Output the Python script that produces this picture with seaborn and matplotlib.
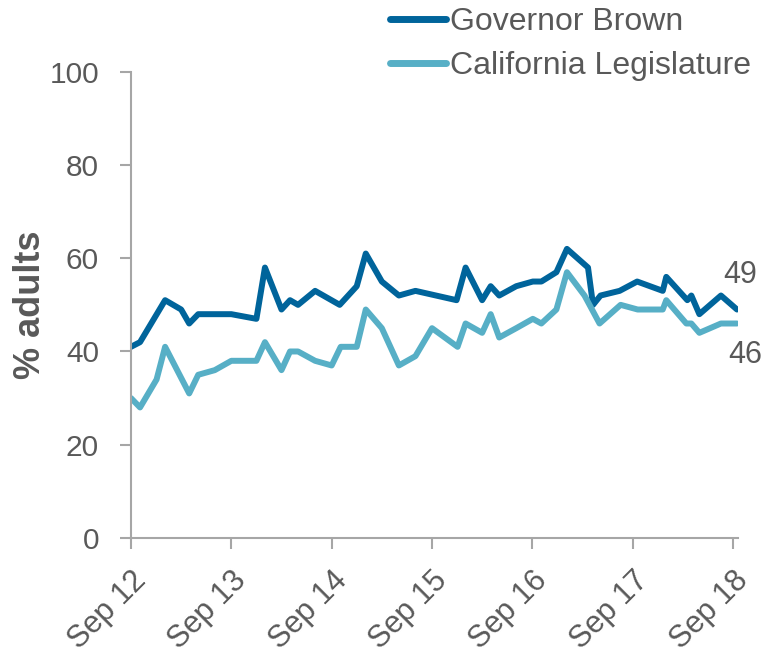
import pandas as pd
import matplotlib
matplotlib.use("Agg")
import matplotlib.pyplot as plt
import seaborn as sns

### Data (x = years since Sep 2012)
brown_t = [0.0, 0.09, 0.34, 0.50, 0.58, 0.67, 1.0, 1.25, 1.335, 1.50, 1.585, 1.665,
           1.835, 2.08, 2.25, 2.34, 2.50, 2.67, 2.835, 3.245, 3.335, 3.50, 3.585,
           3.67, 3.84, 4.005, 4.09, 4.24, 4.345, 4.555, 4.605, 4.68, 4.87, 5.045,
           5.30, 5.335, 5.545, 5.585, 5.665, 5.88, 6.04]
brown = [41, 42, 51, 49, 46, 48, 48, 47, 58, 49, 51, 50,
         53, 50, 54, 61, 55, 52, 53, 51, 58, 51, 54,
         52, 54, 55, 55, 57, 62, 58, 50, 52, 53, 55,
         53, 56, 51, 52, 48, 52, 49]

leg_t = [0.0, 0.09, 0.255, 0.34, 0.58, 0.67, 0.835, 1.0, 1.25, 1.335, 1.50, 1.585,
         1.665, 1.835, 2.0, 2.09, 2.25, 2.34, 2.50, 2.67, 2.835, 3.0, 3.255, 3.335,
         3.50, 3.585, 3.67, 3.84, 4.005, 4.09, 4.24, 4.345, 4.52, 4.67, 4.88, 5.05,
         5.30, 5.335, 5.535, 5.585, 5.665, 5.88, 6.04]
legislature = [30, 28, 34, 41, 31, 35, 36, 38, 38, 42, 36, 40,
               40, 38, 37, 41, 41, 49, 45, 37, 39, 45, 41, 46,
               44, 48, 43, 45, 47, 46, 49, 57, 52, 46, 50, 49,
               49, 51, 46, 46, 44, 46, 46]

tick_labels = ["Sep 12", "Sep 13", "Sep 14", "Sep 15", "Sep 16", "Sep 17", "Sep 18"]
series_names = ["Governor Brown", "California Legislature"]
colors = ["#00649b", "#57afc6"]

df = pd.concat([
    pd.DataFrame({"t": brown_t, "pct": brown, "series": series_names[0]}),
    pd.DataFrame({"t": leg_t, "pct": legislature, "series": series_names[1]}),
])

sns.set_style("white")
plt.rcParams['font.family'] = ['Liberation Sans', 'DejaVu Sans']
grey = "#595959"
axis_grey = "#a6a6a6"

fig = plt.figure(figsize=(7.63, 6.55), dpi=100)
ax = fig.add_axes([131/763, 1 - 538/655, (738 - 131)/763, (538 - 71.7)/655])

sns.lineplot(data=df, x="t", y="pct", hue="series", palette=dict(zip(series_names, colors)),
             estimator=None, linewidth=4.3, ax=ax, legend=False)

ax.set_xlim(0, 6.05)
ax.set_ylim(0, 100)
ax.set_yticks([0, 20, 40, 60, 80, 100])
ax.set_xticks(range(7))
ax.set_xticklabels(tick_labels, rotation=45, ha="right", va="top", rotation_mode="anchor",
                   fontsize=22)
ax.set_xlabel("")
ax.set_ylabel("% adults", fontsize=26, fontweight="bold", color=grey, labelpad=1)

sns.despine(ax=ax)
for s in ["left", "bottom"]:
    ax.spines[s].set_color(axis_grey)
    ax.spines[s].set_linewidth(1.5)
ax.tick_params(axis="both", colors=axis_grey, labelcolor=grey,
               length=8, width=1.5, direction="out", bottom=True, left=True)
ax.tick_params(axis="x", pad=12)
ax.tick_params(axis="y", pad=15, labelsize=21.5)

# end labels
ax.text(6.07, 56.5, str(brown[-1]), fontsize=22, color=grey, ha="center", va="center", clip_on=False)
ax.text(6.12, 39.2, str(legislature[-1]), fontsize=22, color=grey, ha="center", va="center", clip_on=False)

handles = [plt.Line2D([], [], color=c, linewidth=5, solid_capstyle="round") for c in colors]
fig.legend(handles, series_names, loc="upper left", bbox_to_anchor=(390/763, 1 - 7/655),
           frameon=False, fontsize=23, labelcolor=grey, handlelength=1.75,
           handletextpad=0.12, labelspacing=0.45, borderpad=0, borderaxespad=0)

fig.savefig("out.png", dpi=100)
